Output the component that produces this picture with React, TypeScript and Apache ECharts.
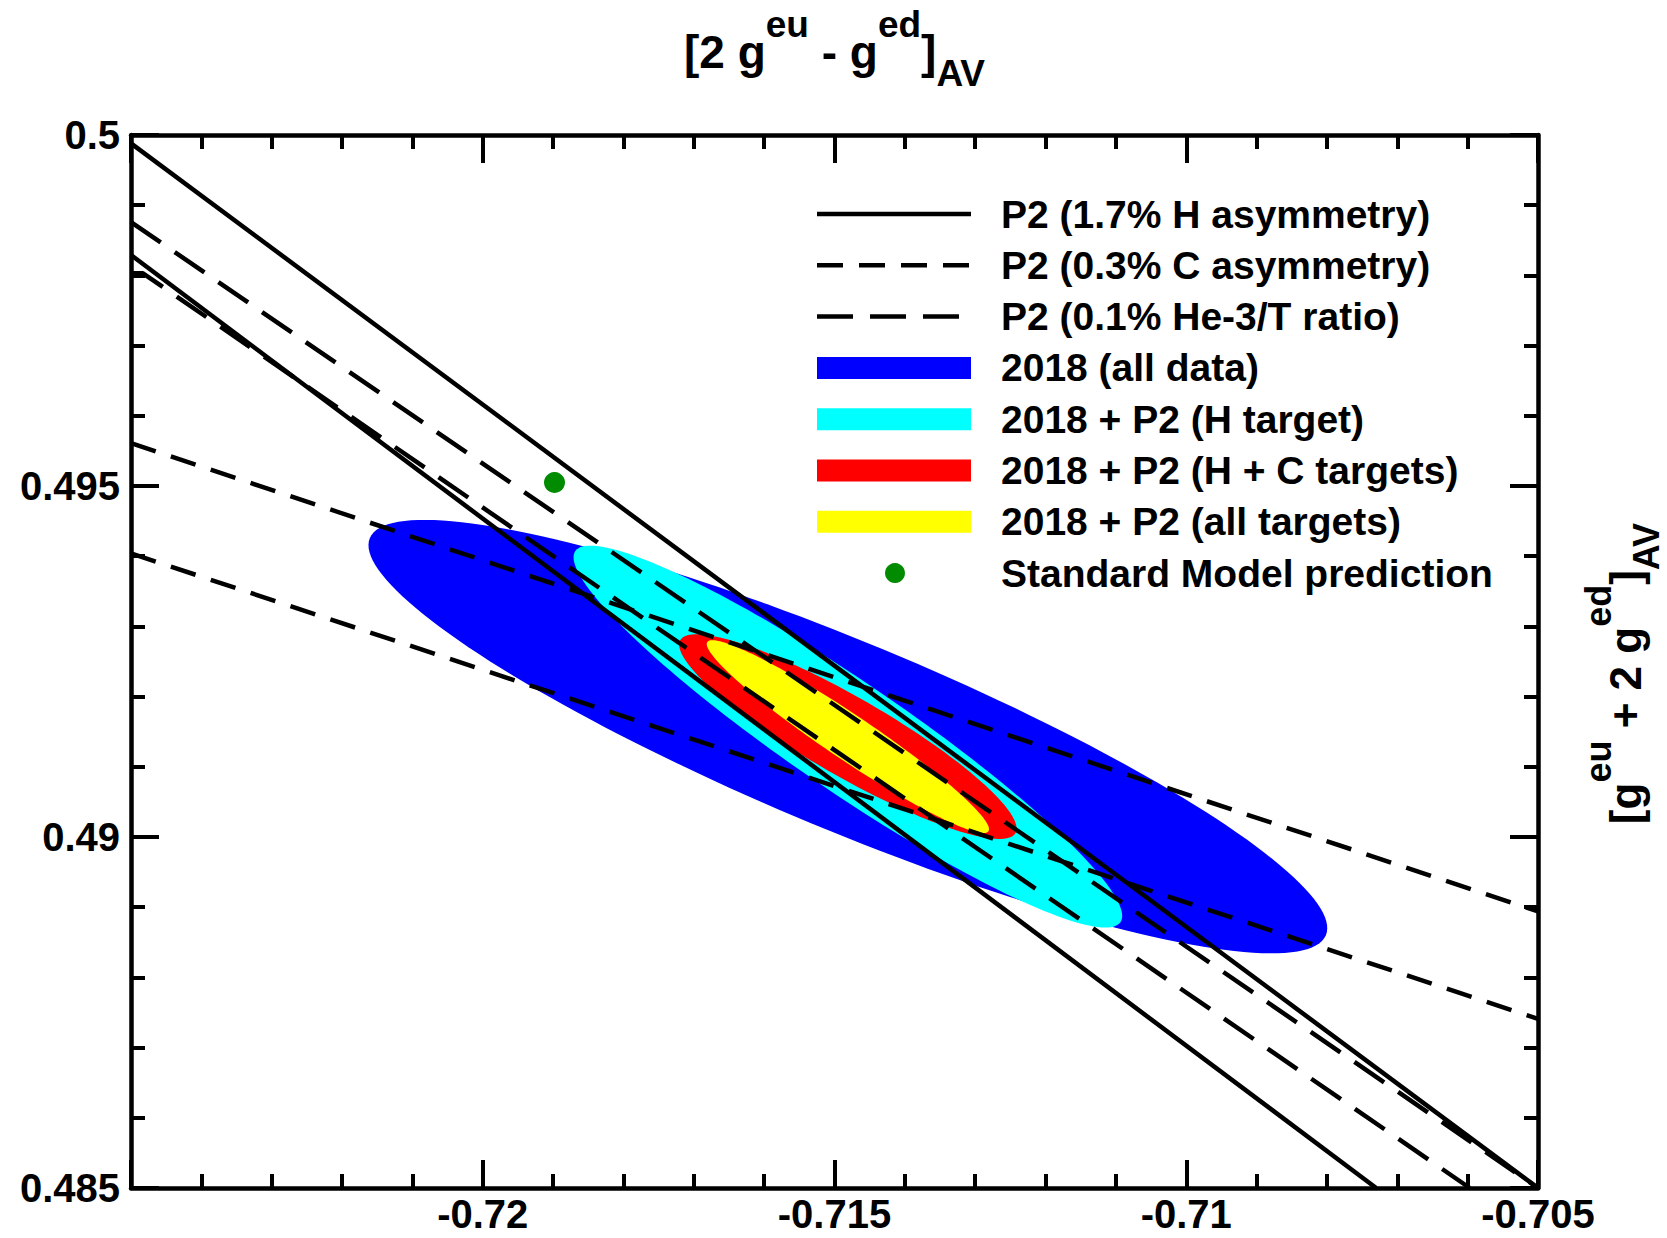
import React, { useEffect, useRef } from "react";
import * as echarts from "echarts";

// ---- axes ----
const X_MIN = -0.725;
const X_MAX = -0.705;
const X_STEP = 0.005;
const Y_MIN = 0.485;
const Y_MAX = 0.5;
const Y_STEP = 0.005;

// ---- P2 constraint bands (straight lines, [x, y] end points) ----
const H_ASYM_UPPER = [[-0.725, 0.49988], [-0.705, 0.485]];
const H_ASYM_LOWER = [[-0.725, 0.49829], [-0.7073, 0.485]];
const C_ASYM_UPPER = [[-0.725, 0.49561], [-0.705, 0.48894]];
const C_ASYM_LOWER = [[-0.725, 0.49404], [-0.705, 0.48741]];
const HE_T_UPPER = [[-0.725, 0.49876], [-0.705, 0.485]];
const HE_T_LOWER = [[-0.725, 0.49803], [-0.72483, 0.49803], [-0.70597, 0.485]];

// ---- Standard Model prediction ----
const SM_POINT = [-0.71898, 0.49505];

// ---- confidence ellipses ----
const ELLIPSE_NAMES = ["2018 (all data)", "2018 + P2 (H target)", "2018 + P2 (H + C targets)", "2018 + P2 (all targets)"];
const ELLIPSE_COLORS = ["#0000ff", "#00ffff", "#ff0000", "#ffff00"];
const ELLIPSE_CENTER = [-0.71481, 0.49143];
const ELLIPSE_SEMI_MAJOR = [0.00736, 0.00469, 0.00275, 0.00241];
const ELLIPSE_SEMI_MINOR = [0.00134, 0.00078, 0.00056, 0.00032];
const ELLIPSE_ANGLE_DEG = [-22.6, -34.3, -30, -34];

// ---- legend ----
const LEGEND_LABELS = [
  "P2 (1.7% H asymmetry)",
  "P2 (0.3% C asymmetry)",
  "P2 (0.1% He-3/T ratio)",
  "2018 (all data)",
  "2018 + P2 (H target)",
  "2018 + P2 (H + C targets)",
  "2018 + P2 (all targets)",
  "Standard Model prediction",
];

const FONT = '"Liberation Sans", Arial, Helvetica, sans-serif';
const SHORT_DASH = [26, 16];
const LONG_DASH = [36, 17];
const SM_GREEN = "#008b00";
const LINE_W = 4.5;

let measureCtx: CanvasRenderingContext2D | null = null;
function measure(text: string, size: number): number {
  if (!measureCtx) measureCtx = document.createElement("canvas").getContext("2d");
  measureCtx!.font = `bold ${size}px ${FONT}`;
  return measureCtx!.measureText(text).width;
}

type Piece = [string, number, number];
function layoutPieces(pieces: Piece[]) {
  let x = 0;
  const children: any[] = [];
  for (const [text, size, dy] of pieces) {
    children.push({
      type: "text",
      x,
      y: dy - 0.3465 * size,
      style: {
        text,
        font: `bold ${size}px ${FONT}`,
        fill: "#000",
        textAlign: "left",
        textVerticalAlign: "middle",
        verticalAlign: "middle",
      },
    });
    x += measure(text, size);
  }
  return { children, width: x };
}

const TITLE_PIECES: Piece[] = [
  ["[2 g", 46, 0],
  ["eu", 37, -31],
  [" - g", 46, 0],
  ["ed", 37, -31],
  ["]", 46, 0],
  ["AV", 37, 18],
];
const RIGHT_PIECES: Piece[] = [
  ["[g", 44, 0],
  ["eu", 36, -30],
  [" + 2 g", 44, 0],
  ["ed", 36, -30],
  ["]", 44, 0],
  ["AV", 36, 18],
];

function fmt(v: number) {
  return String(parseFloat(v.toFixed(4)));
}

function ellipseRenderer(k: number) {
  return (params: any, api: any) => {
    const cx = api.value(0);
    const cy = api.value(1);
    const phi = (ELLIPSE_ANGLE_DEG[k] * Math.PI) / 180;
    const a = ELLIPSE_SEMI_MAJOR[k];
    const b = ELLIPSE_SEMI_MINOR[k];
    const pts: number[][] = [];
    const n = 180;
    for (let i = 0; i < n; i++) {
      const t = (i / n) * 2 * Math.PI;
      const dx = a * Math.cos(t) * Math.cos(phi) - b * Math.sin(t) * Math.sin(phi);
      const dy = a * Math.cos(t) * Math.sin(phi) + b * Math.sin(t) * Math.cos(phi);
      pts.push(api.coord([cx + dx, cy + dy]));
    }
    return {
      type: "polygon",
      shape: { points: pts },
      style: { fill: ELLIPSE_COLORS[k], stroke: null },
    };
  };
}

export default function App() {
  const ref = useRef<HTMLDivElement>(null);
  useEffect(() => {
    if (!ref.current) return;
    const chart = echarts.init(ref.current, undefined, { renderer: "svg" });

    const gridLeft = 131;
    const gridTop = 135;
    const gridRight = 129;
    const gridBottom = 50;

    const axisCommon = {
      type: "value",
      axisLine: { show: true, onZero: false, lineStyle: { color: "#000", width: 4.5 } },
      axisTick: { show: true, inside: true, length: 28, lineStyle: { color: "#000", width: 4 } },
      minorTick: { show: true, splitNumber: 5, length: 14, lineStyle: { color: "#000", width: 4 } },
      splitLine: { show: false },
      minorSplitLine: { show: false },
    };

    const labelStyle = {
      fontSize: 40,
      fontWeight: "bold",
      fontFamily: FONT,
      color: "#000",
      formatter: (v: number) => fmt(v),
    };

    const xAxes = [
      {
        ...axisCommon,
        min: X_MIN,
        max: X_MAX,
        interval: X_STEP,
        position: "bottom",
        axisLabel: { ...labelStyle, margin: 6, showMinLabel: false },
      },
      {
        ...axisCommon,
        min: X_MIN,
        max: X_MAX,
        interval: X_STEP,
        position: "top",
        axisLabel: { show: false },
      },
    ];
    const yAxes = [
      {
        ...axisCommon,
        min: Y_MIN,
        max: Y_MAX,
        interval: Y_STEP,
        position: "left",
        axisLabel: { ...labelStyle, margin: 11 },
      },
      {
        ...axisCommon,
        min: Y_MIN,
        max: Y_MAX,
        interval: Y_STEP,
        position: "right",
        axisLabel: { show: false },
      },
    ];

    const ellipseSeries = ELLIPSE_NAMES.map((name, k) => ({
      name,
      type: "custom",
      coordinateSystem: "cartesian2d",
      xAxisIndex: 0,
      yAxisIndex: 0,
      data: [ELLIPSE_CENTER],
      encode: { x: 0, y: 1 },
      renderItem: ellipseRenderer(k),
      clip: true,
      silent: true,
      z: 1 + k * 0.01,
    }));

    const lineSeries = (name: string, data: number[][], dash: any) => ({
      name,
      type: "line",
      xAxisIndex: 0,
      yAxisIndex: 0,
      data,
      symbol: "none",
      showSymbol: false,
      clip: true,
      silent: true,
      z: 3,
      lineStyle: { color: "#000", width: LINE_W, type: dash },
    });

    const series: any[] = [
      ...ellipseSeries,
      lineSeries(LEGEND_LABELS[0], H_ASYM_UPPER, "solid"),
      lineSeries(LEGEND_LABELS[0] + " ", H_ASYM_LOWER, "solid"),
      lineSeries(LEGEND_LABELS[1], C_ASYM_UPPER, SHORT_DASH),
      lineSeries(LEGEND_LABELS[1] + " ", C_ASYM_LOWER, SHORT_DASH),
      lineSeries(LEGEND_LABELS[2], HE_T_UPPER, LONG_DASH),
      lineSeries(LEGEND_LABELS[2] + " ", HE_T_LOWER, LONG_DASH),
      {
        name: LEGEND_LABELS[7],
        type: "scatter",
        xAxisIndex: 0,
        yAxisIndex: 0,
        data: [SM_POINT],
        symbol: "circle",
        symbolSize: 21,
        itemStyle: { color: SM_GREEN, opacity: 1 },
        silent: true,
        z: 4,
      },
    ];

    // legend drawn with graphic elements
    const legendX1 = 817;
    const legendX2 = 971;
    const legendTextX = 1001;
    const rowY = (i: number) => 214 + 51.3 * i;
    const legendEls: any[] = [];
    const dashes: any[] = [null, SHORT_DASH, LONG_DASH];
    for (let i = 0; i < 3; i++) {
      legendEls.push({
        type: "line",
        shape: { x1: legendX1, y1: rowY(i), x2: legendX2, y2: rowY(i) },
        style: { stroke: "#000", lineWidth: LINE_W, lineDash: dashes[i] },
      });
    }
    for (let k = 0; k < 4; k++) {
      legendEls.push({
        type: "rect",
        shape: { x: legendX1, y: rowY(3 + k) - 11, width: legendX2 - legendX1, height: 22 },
        style: { fill: ELLIPSE_COLORS[k] },
      });
    }
    legendEls.push({
      type: "circle",
      shape: { cx: (legendX1 + legendX2) / 2 + 1, cy: rowY(7), r: 10 },
      style: { fill: SM_GREEN },
    });
    LEGEND_LABELS.forEach((label, i) => {
      legendEls.push({
        type: "text",
        x: legendTextX,
        y: rowY(i),
        style: {
          text: label,
          font: `bold 39px ${FONT}`,
          fill: "#000",
          textAlign: "left",
          textVerticalAlign: "middle",
          verticalAlign: "middle",
        },
      });
    });

    const title = layoutPieces(TITLE_PIECES);
    const right = layoutPieces(RIGHT_PIECES);
    const plotCx = gridLeft + (1667 - gridLeft - gridRight) / 2;
    const plotCy = gridTop + (1238 - gridTop - gridBottom) / 2;

    const graphic: any[] = [
      ...legendEls,
      { type: "group", x: plotCx - title.width / 2, y: 68, children: title.children },
      {
        type: "group",
        x: 1641,
        y: plotCy + 12 + right.width / 2,
        rotation: Math.PI / 2,
        children: right.children,
      },
    ];

    chart.setOption({
      animation: false,
      backgroundColor: "#ffffff",
      grid: { left: gridLeft, right: gridRight, top: gridTop, bottom: gridBottom, containLabel: false },
      xAxis: xAxes,
      yAxis: yAxes,
      series,
      graphic,
    });

    return () => chart.dispose();
  }, []);

  return (
    <div
      ref={ref}
      style={{ position: "absolute", left: 0, top: 0, width: 1667, height: 1238, background: "#fff" }}
    />
  );
}
